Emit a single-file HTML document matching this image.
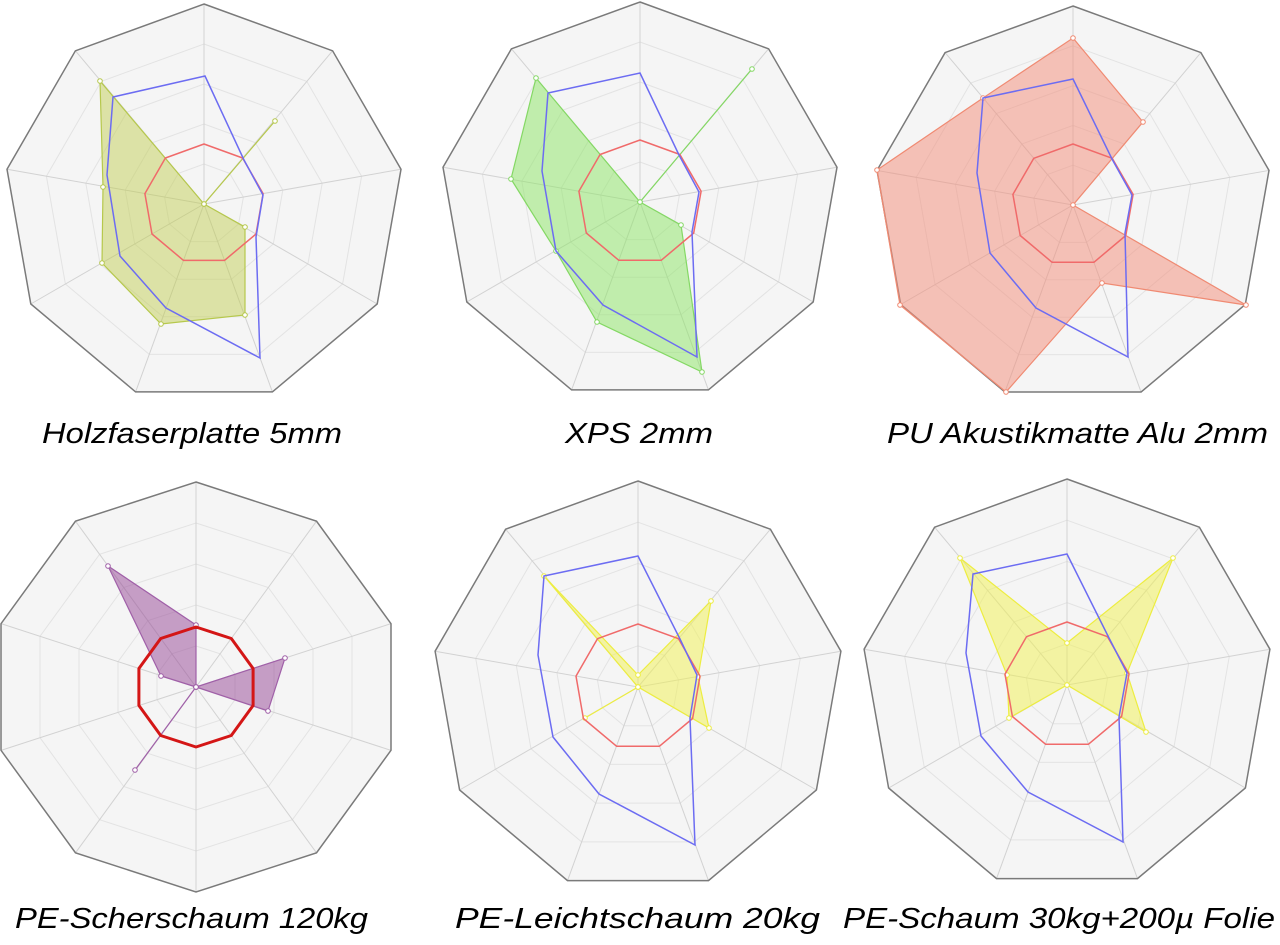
<!DOCTYPE html>
<html><head><meta charset="utf-8">
<style>
html,body{margin:0;padding:0;background:#fff;width:1280px;height:945px;overflow:hidden}
svg{display:block}
text{font-family:"Liberation Sans",sans-serif;font-style:italic;font-size:29px;fill:#000}
</style></head>
<body>
<svg id="s" width="1280" height="945" viewBox="0 0 1280 945" xmlns="http://www.w3.org/2000/svg">
<text x="42" y="443" textLength="300" lengthAdjust="spacingAndGlyphs">Holzfaserplatte 5mm</text>
<text x="565" y="443" textLength="148" lengthAdjust="spacingAndGlyphs">XPS 2mm</text>
<text x="887" y="443" textLength="381" lengthAdjust="spacingAndGlyphs">PU Akustikmatte Alu 2mm</text>
<text x="15" y="928" textLength="353" lengthAdjust="spacingAndGlyphs">PE-Scherschaum 120kg</text>
<text x="455" y="928" textLength="365" lengthAdjust="spacingAndGlyphs">PE-Leichtschaum 20kg</text>
<text x="843" y="928" textLength="432" lengthAdjust="spacingAndGlyphs">PE-Schaum 30kg+200µ Folie</text>
</svg>
<script>
var s=document.getElementById('s');
function el(t,a){var e=document.createElementNS('http://www.w3.org/2000/svg',t);for(var k in a)e.setAttribute(k,a[k]);s.appendChild(e);return e;}
function pt(cx,cy,n,i,r){var a=i*2*Math.PI/n;return [cx+r*Math.sin(a),cy-r*Math.cos(a)];}
function ps(a){return a.map(function(p){return p[0].toFixed(1)+','+p[1].toFixed(1)}).join(' ');}
function grid(cx,cy,R,n){
  var o=[];for(var i=0;i<n;i++)o.push(pt(cx,cy,n,i,R));
  el('polygon',{points:ps(o),fill:'#f5f5f5',stroke:'none'});
  for(var k=1;k<5;k++){var q=[];for(var i=0;i<n;i++)q.push(pt(cx,cy,n,i,R*k/5));
    el('polygon',{points:ps(q),fill:'none',stroke:'#e3e3e3','stroke-width':1});}
  for(var i=0;i<n;i++){var p=o[i];el('line',{x1:cx,y1:cy,x2:p[0],y2:p[1],stroke:'#d2d2d2','stroke-width':1});}
  el('polygon',{points:ps(o),fill:'none',stroke:'#7a7a7a','stroke-width':1.5});
}
function reg(cx,cy,n,r,col,w){var q=[];for(var i=0;i<n;i++)q.push(pt(cx,cy,n,i,r));
  el('polygon',{points:ps(q),fill:'none',stroke:col,'stroke-width':w||1.5,'stroke-linejoin':'round'});}
function line(p,col){el('polygon',{points:ps(p),fill:'none',stroke:col,'stroke-width':1.5});}
function area(p,fill,col){el('polygon',{points:ps(p),fill:fill,stroke:col,'stroke-width':1.2});
  p.forEach(function(q){el('circle',{cx:q[0],cy:q[1],r:2.3,fill:'#fff',stroke:col,'stroke-width':1});});}
var RED='#f06a6a',BLUE='#6c6cf2';
grid(204,204,200,9);
area([[204,204],[275,121],[204,204],[245,227],[245,315],[161,324],[102,263],[103,187],[100,81]],'rgba(190,205,70,0.45)','#b6c84c');
reg(204,204,9,60,RED);
line([[205,76],[244,160],[263,195],[256,237],[260,358],[166,308],[120,256],[107,175],[113,97]],BLUE);
grid(640,202,200,9);
area([[640,202],[752,69],[640,202],[681,225],[702,372],[597,322],[556,251],[511,179],[536,78]],'rgba(140,230,100,0.5)','#84d864');
reg(640,202,9,62,RED);
line([[640,73],[679,155],[699,192],[692,232],[697,357],[603,305],[556,251],[542,171],[548,93]],BLUE);
grid(1073,205,199,9);
area([[1073,38],[1143,122],[1073,205],[1246,305],[1102,283],[1006,392],[900,305],[877,170],[983,98]],'rgba(243,140,120,0.5)','#f08a72');
reg(1073,205,9,61,RED);
line([[1073,79],[1112,159],[1132,195],[1125,233],[1128,357],[1036,308],[990,253],[977,173],[983,98]],BLUE);
grid(196,687,205,10);
area([[196,625],[196,687],[285,658],[268,711],[196,687],[196,687],[135,770],[196,687],[161,676],[108,566]],'rgba(150,70,150,0.5)','#a060a8');
reg(196,687,10,60,'#d41616',3);
grid(638,687,206,9);
area([[638,675],[711,601],[698,677],[709,728],[638,687],[638,687],[585,718],[638,687],[544,576]],'rgba(242,242,80,0.5)','#eded40');
reg(638,687,9,63,RED);
line([[638,556],[680,639],[697,675],[690,718],[695,845],[599,794],[553,737],[538,655],[544,576]],BLUE);
grid(1067,685,206,9);
area([[1067,643],[1173,558],[1127,673],[1146,732],[1067,685],[1067,685],[1009,718],[1007,675],[960,558]],'rgba(242,242,80,0.5)','#eded40');
reg(1067,685,9,63,RED);
line([[1067,554],[1108,636],[1127,673],[1119,717],[1123,842],[1028,792],[981,736],[966,653],[973,574]],BLUE);
var ts=s.querySelectorAll('text');ts.forEach(function(t){s.appendChild(t);});
</script>
</body></html>
